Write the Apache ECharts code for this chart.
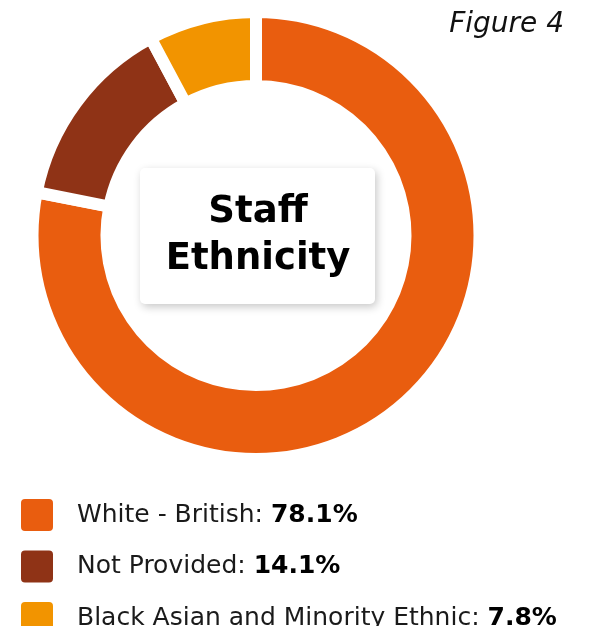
<!DOCTYPE html>
<html>
<head>
<meta charset="utf-8">
<script src="https://cdn.jsdelivr.net/npm/echarts@6/dist/echarts.min.js"></script>
<style>
  html, body { margin: 0; padding: 0; background: #ffffff; }
  #chart { width: 608px; height: 626px; }
</style>
</head>
<body>
<div id="chart"></div>
<script>
// Staff ethnicity breakdown (percent of staff)
const categories = ['White - British', 'Not Provided', 'Black Asian and Minority Ethnic'];
const shares = [78.1, 14.1, 7.8];
const colors = ['#E95D0F', '#8F3316', '#F29400'];

const FONT = '"DejaVu Sans", sans-serif';

const chart = echarts.init(document.getElementById('chart'), null, { renderer: 'canvas' });

const data = categories.map((name, i) => ({
  name: name,
  value: shares[i],
  itemStyle: { color: colors[i] }
}));

chart.setOption({
  animation: false,
  backgroundColor: '#ffffff',
  legend: {
    orient: 'vertical',
    left: 19,
    top: 497,
    height: 300,
    padding: 0,
    itemWidth: 34,
    itemHeight: 34,
    itemGap: 15.5,
    icon: 'path://M5,0 H29 Q34,0 34,5 V29 Q34,34 29,34 H5 Q0,34 0,29 V5 Q0,0 5,0 Z',
    selectedMode: false,
    data: categories,
    formatter: function (name) {
      const i = categories.indexOf(name);
      return '{n|' + name + ': }{v|' + shares[i].toFixed(1) + '%}';
    },
    textStyle: {
      padding: [0, 0, 0, 18],
      rich: {
        n: { fontFamily: FONT, fontSize: 25, color: '#1a1a1a', fontWeight: 'normal' },
        v: { fontFamily: FONT, fontSize: 25, color: '#000000', fontWeight: 'bold' }
      }
    }
  },
  graphic: [
    {
      type: 'text',
      right: 44,
      top: 11,
      style: {
        text: 'Figure 4',
        font: 'italic 28px ' + FONT,
        fill: '#111111'
      }
    },
    {
      type: 'rect',
      shape: { x: 140, y: 168, width: 235, height: 136, r: 5 },
      style: {
        fill: '#ffffff',
        shadowBlur: 8,
        shadowColor: 'rgba(0,0,0,0.22)',
        shadowOffsetX: 2,
        shadowOffsetY: 3
      },
      z: 10
    },
    {
      type: 'text',
      x: 258,
      y: 236,
      style: {
        text: 'Staff\nEthnicity',
        font: 'bold 37px ' + FONT,
        lineHeight: 47,
        fill: '#000000',
        align: 'center',
        verticalAlign: 'middle'
      },
      z: 11
    }
  ],
  series: [
    {
      type: 'pie',
      center: [256, 235.5],
      radius: [149.5, 223.5],
      startAngle: 90,
      clockwise: true,
      label: { show: false },
      labelLine: { show: false },
      emphasis: { disabled: true },
      itemStyle: {
        borderColor: '#ffffff',
        borderWidth: 12,
        borderJoin: 'miter'
      },
      data: data
    }
  ]
});
</script>
</body>
</html>
